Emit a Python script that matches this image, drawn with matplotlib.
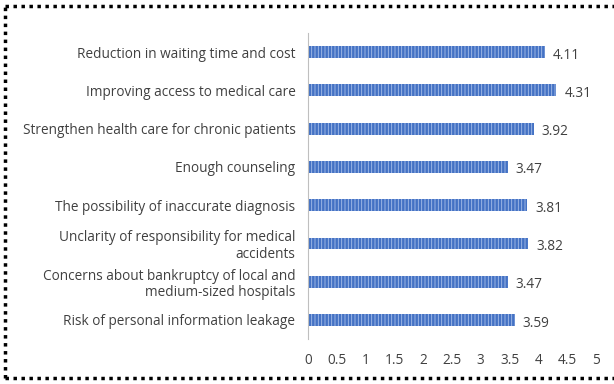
import matplotlib.pyplot as plt
from matplotlib.lines import Line2D

labels = [
    "Reduction in waiting time and cost",
    "Improving access to medical care",
    "Strengthen health care for chronic patients",
    "Enough counseling",
    "The possibility of inaccurate diagnosis",
    "Unclarity of responsibility for medical\naccidents",
    "Concerns about bankruptcy of local and\nmedium-sized hospitals",
    "Risk of personal information leakage",
]
scores = [4.11, 4.31, 3.92, 3.47, 3.81, 3.82, 3.47, 3.59]
xticks = [0, 0.5, 1, 1.5, 2, 2.5, 3, 3.5, 4, 4.5, 5]

plt.rcParams['font.family'] = ['Open Sans', 'DejaVu Sans']
plt.rcParams['hatch.linewidth'] = 0.6

fig = plt.figure(figsize=(6.14, 3.84), dpi=100)
ax = fig.add_axes([0.5016, 0.117, 0.469, 0.797])

pos = list(range(len(labels)))
ax.barh(pos, scores, height=0.31, color='#4472C4', edgecolor='#A9C0EA',
        linewidth=0, hatch='|||||')
for p, s in zip(pos, scores):
    ax.text(s + 0.14, p + 0.08, f"{s:.2f}", va='center', ha='left',
            fontsize=9.8, color='#404040')

ax.set_xlim(0, 5)
ax.set_ylim(len(labels) - 0.5, -0.5)
ax.set_xticks(xticks)
ax.set_xticklabels([f"{t:g}" for t in xticks])
ax.set_yticks(pos)
ax.set_yticklabels(labels, linespacing=1.1)
ax.tick_params(length=0, labelsize=9.8, colors='#404040')
ax.tick_params(axis='y', pad=9)
ax.tick_params(axis='x', pad=10)
for side in ['top', 'right', 'bottom']:
    ax.spines[side].set_visible(False)
ax.spines['left'].set_color('#BFBFBF')

# dotted frame, open on the right
x0, y0, y1 = 5 / 614, 1 - 378 / 384, 1 - 6 / 384
for xs, ys in [([x0, 1.0], [y1, y1]), ([x0, x0], [y0, y1]), ([x0, 1.0], [y0, y0])]:
    fig.add_artist(Line2D(xs, ys, transform=fig.transFigure, color='black',
                          linewidth=2.5, linestyle=(0, (1, 1.3)),
                          dash_capstyle='butt'))

fig.savefig('out.png', dpi=100)
